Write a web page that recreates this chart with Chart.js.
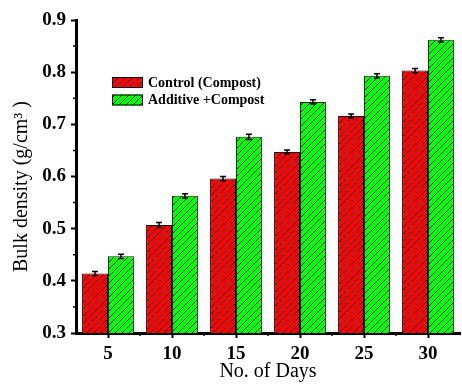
<!DOCTYPE html>
<html>
<head>
<meta charset="utf-8">
<script src="https://cdn.jsdelivr.net/npm/chart.js@4.4.0/dist/chart.umd.min.js"></script>
<style>
  html, body { margin: 0; padding: 0; background: #fff; }
  #wrap { width: 462px; height: 384px; }
</style>
</head>
<body>
<div id="wrap"><canvas id="bdChart" width="462" height="384"></canvas></div>
<script>
// data
const days = ['5', '10', '15', '20', '25', '30'];
const controlVals = [0.414, 0.507, 0.596, 0.647, 0.716, 0.803];
const controlErr = [0.004, 0.005, 0.004, 0.004, 0.004, 0.004];
const additiveVals = [0.447, 0.563, 0.676, 0.743, 0.793, 0.862];
const additiveErr = [0.004, 0.004, 0.005, 0.004, 0.004, 0.004];
const yTicks = [0.3, 0.4, 0.5, 0.6, 0.7, 0.8, 0.9];

const ctx = document.getElementById('bdChart').getContext('2d');

// diagonal hatch "///" over a solid fill
function hatch(fill) {
  const s = 7;
  const c = document.createElement('canvas');
  c.width = s; c.height = s;
  const g = c.getContext('2d');
  g.fillStyle = fill;
  g.fillRect(0, 0, s, s);
  g.strokeStyle = '#000';
  g.lineWidth = 0.9;
  g.beginPath();
  g.moveTo(0, s); g.lineTo(s, 0);
  g.moveTo(-1, 1); g.lineTo(1, -1);
  g.moveTo(s - 1, s + 1); g.lineTo(s + 1, s - 1);
  g.stroke();
  return ctx.createPattern(c, 'repeat');
}

const redHatch = hatch('#ff0000');
const greenHatch = hatch('#00ff00');

// error bars
const errorBars = {
  id: 'errorBars',
  afterDatasetsDraw(chart) {
    const c = chart.ctx;
    const y = chart.scales.y;
    c.save();
    c.strokeStyle = '#000';
    c.lineWidth = 1.5;
    chart.data.datasets.forEach((ds, i) => {
      const meta = chart.getDatasetMeta(i);
      meta.data.forEach((bar, j) => {
        const v = ds.data[j], e = ds.errors[j];
        const top = y.getPixelForValue(v + e);
        const bot = y.getPixelForValue(v - e);
        const x = bar.x;
        c.beginPath();
        c.moveTo(x, top); c.lineTo(x, bot);
        c.moveTo(x - 3, top); c.lineTo(x + 3, top);
        c.moveTo(x - 3, bot); c.lineTo(x + 3, bot);
        c.stroke();
      });
    });
    c.restore();
  }
};

// minor ticks on both axes
const minorTicks = {
  id: 'minorTicks',
  afterDraw(chart) {
    const c = chart.ctx;
    const { x, y } = chart.scales;
    const area = chart.chartArea;
    c.save();
    c.strokeStyle = '#000';
    c.lineWidth = 1.5;
    c.beginPath();
    for (let i = 0; i < yTicks.length - 1; i++) {
      const py = y.getPixelForValue((yTicks[i] + yTicks[i + 1]) / 2);
      c.moveTo(area.left - 3, py); c.lineTo(area.left, py);
    }
    for (let i = 0; i < days.length - 1; i++) {
      const px = (x.getPixelForValue(i) + x.getPixelForValue(i + 1)) / 2;
      c.moveTo(px, area.bottom); c.lineTo(px, area.bottom + 3);
    }
    c.stroke();
    c.restore();
  }
};

// legend placed inside the plot
const innerLegend = {
  id: 'innerLegend',
  afterDraw(chart) {
    const c = chart.ctx;
    c.save();
    c.font = 'bold 14px "Liberation Serif", serif';
    c.textBaseline = 'middle';
    chart.data.datasets.forEach((ds, i) => {
      const bx = 112, by = 77 + i * 17.5;
      c.fillStyle = ds.backgroundColor;
      c.fillRect(bx, by, 31, 11);
      c.strokeStyle = '#000';
      c.lineWidth = 1;
      c.strokeRect(bx + 0.5, by + 0.5, 30, 10);
      c.fillStyle = '#000';
      c.fillText(ds.label, bx + 36, by + 6);
    });
    c.restore();
  }
};

new Chart(ctx, {
  type: 'bar',
  data: {
    labels: days,
    datasets: [{
      label: 'Control (Compost)',
      data: controlVals,
      errors: controlErr,
      backgroundColor: redHatch,
      borderColor: '#1a0000',
      borderWidth: 1,
      categoryPercentage: 0.81,
      barPercentage: 1
    }, {
      label: 'Additive +Compost',
      data: additiveVals,
      errors: additiveErr,
      backgroundColor: greenHatch,
      borderColor: '#0a2a0a',
      borderWidth: 1,
      categoryPercentage: 0.81,
      barPercentage: 1
    }]
  },
  options: {
    responsive: false,
    animation: false,
    layout: { padding: { top: 20, right: 2, left: 10, bottom: 0 } },
    plugins: { legend: { display: false }, tooltip: { enabled: false } },
    scales: {
      x: {
        afterFit: s => { s.height = 51; },
        grid: { offset: false, drawOnChartArea: false, tickLength: 5, tickWidth: 2, tickColor: '#000' },
        border: { color: '#000', width: 3 },
        ticks: {
          color: '#000',
          padding: 5,
          font: { family: '"Liberation Serif", serif', size: 19, weight: 'bold' }
        },
        title: {
          display: true,
          text: 'No. of Days',
          color: '#000',
          padding: { top: -4, bottom: 0 },
          font: { family: '"Liberation Serif", serif', size: 20 }
        }
      },
      y: {
        min: 0.3,
        max: 0.9,
        afterFit: s => { s.width = 66; },
        afterBuildTicks: s => { s.ticks = yTicks.map(v => ({ value: v })); },
        grid: { drawOnChartArea: false, tickLength: 5, tickWidth: 2, tickColor: '#000' },
        border: { color: '#000', width: 3 },
        ticks: {
          color: '#000',
          padding: 5,
          callback: v => v.toFixed(1),
          font: { family: '"Liberation Serif", serif', size: 19, weight: 'bold' }
        },
        title: {
          display: true,
          text: 'Bulk density (g/cm³ )\u2002\u2002',
          color: '#000',
          padding: { top: 0, bottom: 0 },
          font: { family: '"Liberation Serif", serif', size: 20 }
        }
      }
    }
  },
  plugins: [errorBars, minorTicks, innerLegend]
});
</script>
</body>
</html>
